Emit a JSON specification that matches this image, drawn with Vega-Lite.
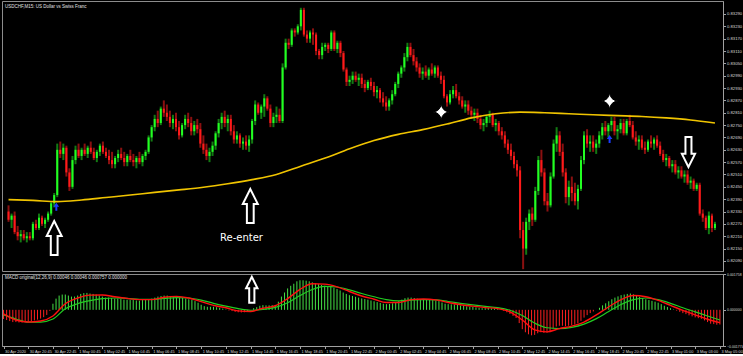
{
"$schema": "https://vega.github.io/schema/vega-lite/v6.json",
"background": "black",
"padding": 0,
"spacing": 3,
"bounds": "flush",
"config": {"view": {"stroke": "#8c8c8c", "strokeWidth": 1}, "font": "Liberation Sans", "axis": {"labelColor": "#d8d8d8", "tickColor": "#a0a0a0", "domainColor": "#a0a0a0", "grid": false, "title": null, "tickSize": 2.5, "labelFontSize": 4.2, "labelPadding": 1, "labelOverlap": false, "labelFlush": false}},
"datasets": {
"c": [
{"i":0,"o":0.8233,"h":0.8236,"l":0.8228,"c":0.8229,"m":-0.00045},
{"i":1,"o":0.8229,"h":0.8232,"l":0.8225,"c":0.8231,"m":-0.0005},
{"i":2,"o":0.8231,"h":0.8233,"l":0.8222,"c":0.8223,"m":-0.00055},
{"i":3,"o":0.8223,"h":0.8226,"l":0.8219,"c":0.8221,"m":-0.0006},
{"i":4,"o":0.8221,"h":0.8224,"l":0.8218,"c":0.8222,"m":-0.0006},
{"i":5,"o":0.8222,"h":0.8224,"l":0.8219,"c":0.822,"m":-0.00062},
{"i":6,"o":0.822,"h":0.8223,"l":0.8218,"c":0.8221,"m":-0.00062},
{"i":7,"o":0.8221,"h":0.8223,"l":0.8219,"c":0.822,"m":-0.0006},
{"i":8,"o":0.822,"h":0.8228,"l":0.8219,"c":0.8227,"m":-0.00058},
{"i":9,"o":0.8227,"h":0.8229,"l":0.8224,"c":0.8225,"m":-0.00055},
{"i":10,"o":0.8225,"h":0.8232,"l":0.8224,"c":0.823,"m":-0.00052},
{"i":11,"o":0.823,"h":0.8231,"l":0.8226,"c":0.8227,"m":-0.00048},
{"i":12,"o":0.8227,"h":0.823,"l":0.8225,"c":0.8229,"m":-0.00043},
{"i":13,"o":0.8229,"h":0.8233,"l":0.8228,"c":0.8232,"m":-0.00036},
{"i":14,"o":0.8232,"h":0.8238,"l":0.8231,"c":0.8237,"m":-0.00025},
{"i":15,"o":0.8237,"h":0.8242,"l":0.8235,"c":0.8241,"m":-0.00005},
{"i":16,"o":0.8241,"h":0.8266,"l":0.824,"c":0.8263,"m":0.0003},
{"i":17,"o":0.8263,"h":0.8267,"l":0.8259,"c":0.8261,"m":0.00055},
{"i":18,"o":0.8261,"h":0.8266,"l":0.8258,"c":0.8264,"m":0.0007},
{"i":19,"o":0.8264,"h":0.8265,"l":0.825,"c":0.8252,"m":0.00075},
{"i":20,"o":0.8252,"h":0.8254,"l":0.8243,"c":0.8245,"m":0.00075},
{"i":21,"o":0.8245,"h":0.826,"l":0.8244,"c":0.8258,"m":0.0007},
{"i":22,"o":0.8258,"h":0.8265,"l":0.8256,"c":0.8263,"m":0.00065},
{"i":23,"o":0.8263,"h":0.8266,"l":0.8259,"c":0.826,"m":0.00065},
{"i":24,"o":0.826,"h":0.8264,"l":0.8258,"c":0.8263,"m":0.0007},
{"i":25,"o":0.8263,"h":0.8266,"l":0.826,"c":0.8261,"m":0.00078},
{"i":26,"o":0.8261,"h":0.8265,"l":0.8259,"c":0.8264,"m":0.00082},
{"i":27,"o":0.8264,"h":0.8267,"l":0.8261,"c":0.8262,"m":0.00083},
{"i":28,"o":0.8262,"h":0.8264,"l":0.8258,"c":0.8259,"m":0.0008},
{"i":29,"o":0.8259,"h":0.8263,"l":0.8257,"c":0.8262,"m":0.00078},
{"i":30,"o":0.8262,"h":0.8266,"l":0.826,"c":0.8265,"m":0.00075},
{"i":31,"o":0.8265,"h":0.8267,"l":0.8261,"c":0.8262,"m":0.0007},
{"i":32,"o":0.8262,"h":0.8264,"l":0.8259,"c":0.826,"m":0.00065},
{"i":33,"o":0.826,"h":0.8263,"l":0.8256,"c":0.8258,"m":0.0006},
{"i":34,"o":0.8258,"h":0.8262,"l":0.8254,"c":0.8256,"m":0.0006},
{"i":35,"o":0.8256,"h":0.826,"l":0.8254,"c":0.8259,"m":0.00058},
{"i":36,"o":0.8259,"h":0.8263,"l":0.8257,"c":0.8261,"m":0.00055},
{"i":37,"o":0.8261,"h":0.8264,"l":0.8258,"c":0.8259,"m":0.00055},
{"i":38,"o":0.8259,"h":0.8262,"l":0.8255,"c":0.8257,"m":0.00053},
{"i":39,"o":0.8257,"h":0.8261,"l":0.8255,"c":0.826,"m":0.0005},
{"i":40,"o":0.826,"h":0.8263,"l":0.8257,"c":0.8258,"m":0.0005},
{"i":41,"o":0.8258,"h":0.8261,"l":0.8255,"c":0.8257,"m":0.00048},
{"i":42,"o":0.8257,"h":0.826,"l":0.8254,"c":0.8259,"m":0.00048},
{"i":43,"o":0.8259,"h":0.8262,"l":0.8256,"c":0.8257,"m":0.00046},
{"i":44,"o":0.8257,"h":0.8261,"l":0.8255,"c":0.826,"m":0.00045},
{"i":45,"o":0.826,"h":0.8263,"l":0.8258,"c":0.8262,"m":0.00048},
{"i":46,"o":0.8262,"h":0.827,"l":0.8261,"c":0.8269,"m":0.0005},
{"i":47,"o":0.8269,"h":0.8275,"l":0.8267,"c":0.8274,"m":0.00053},
{"i":48,"o":0.8274,"h":0.828,"l":0.8272,"c":0.8278,"m":0.00055},
{"i":49,"o":0.8278,"h":0.8282,"l":0.8274,"c":0.8276,"m":0.0006},
{"i":50,"o":0.8276,"h":0.8284,"l":0.8275,"c":0.8283,"m":0.00065},
{"i":51,"o":0.8283,"h":0.8287,"l":0.8279,"c":0.8281,"m":0.00068},
{"i":52,"o":0.8281,"h":0.8285,"l":0.8277,"c":0.8279,"m":0.0007},
{"i":53,"o":0.8279,"h":0.8282,"l":0.8274,"c":0.8276,"m":0.0007},
{"i":54,"o":0.8276,"h":0.828,"l":0.8273,"c":0.8278,"m":0.00068},
{"i":55,"o":0.8278,"h":0.8281,"l":0.8272,"c":0.8274,"m":0.00063},
{"i":56,"o":0.8274,"h":0.8277,"l":0.8268,"c":0.827,"m":0.0006},
{"i":57,"o":0.827,"h":0.8276,"l":0.8269,"c":0.8275,"m":0.0006},
{"i":58,"o":0.8275,"h":0.828,"l":0.8273,"c":0.8278,"m":0.00058},
{"i":59,"o":0.8278,"h":0.8281,"l":0.8274,"c":0.8276,"m":0.00055},
{"i":60,"o":0.8276,"h":0.8279,"l":0.827,"c":0.8272,"m":0.00052},
{"i":61,"o":0.8272,"h":0.8277,"l":0.827,"c":0.8275,"m":0.0005},
{"i":62,"o":0.8275,"h":0.8278,"l":0.8271,"c":0.8273,"m":0.00043},
{"i":63,"o":0.8273,"h":0.8276,"l":0.8264,"c":0.8266,"m":0.00035},
{"i":64,"o":0.8266,"h":0.827,"l":0.8261,"c":0.8263,"m":0.00025},
{"i":65,"o":0.8263,"h":0.8266,"l":0.8258,"c":0.826,"m":0.00018},
{"i":66,"o":0.826,"h":0.8264,"l":0.8257,"c":0.8262,"m":0.00015},
{"i":67,"o":0.8262,"h":0.8267,"l":0.826,"c":0.8265,"m":0.00015},
{"i":68,"o":0.8265,"h":0.8272,"l":0.8263,"c":0.8271,"m":0.00015},
{"i":69,"o":0.8271,"h":0.8278,"l":0.8269,"c":0.8276,"m":0.00013},
{"i":70,"o":0.8276,"h":0.8281,"l":0.8273,"c":0.8279,"m":0.0001},
{"i":71,"o":0.8279,"h":0.8282,"l":0.8274,"c":0.8276,"m":0.00006},
{"i":72,"o":0.8276,"h":0.828,"l":0.8272,"c":0.8278,"m":0.00002},
{"i":73,"o":0.8278,"h":0.828,"l":0.827,"c":0.8272,"m":-0.00003},
{"i":74,"o":0.8272,"h":0.8275,"l":0.8266,"c":0.8268,"m":-0.00006},
{"i":75,"o":0.8268,"h":0.8272,"l":0.8266,"c":0.827,"m":-0.0001},
{"i":76,"o":0.827,"h":0.8271,"l":0.8264,"c":0.8266,"m":-0.00012},
{"i":77,"o":0.8266,"h":0.8269,"l":0.8263,"c":0.8267,"m":-0.00013},
{"i":78,"o":0.8267,"h":0.827,"l":0.8263,"c":0.8265,"m":-0.00012},
{"i":79,"o":0.8265,"h":0.827,"l":0.8262,"c":0.8268,"m":-0.00008},
{"i":80,"o":0.8268,"h":0.8278,"l":0.8266,"c":0.8277,"m":0},
{"i":81,"o":0.8277,"h":0.8287,"l":0.8275,"c":0.8285,"m":0.00008},
{"i":82,"o":0.8285,"h":0.8286,"l":0.828,"c":0.8281,"m":0.00013},
{"i":83,"o":0.8281,"h":0.8285,"l":0.8278,"c":0.8284,"m":0.0002},
{"i":84,"o":0.8284,"h":0.829,"l":0.8279,"c":0.8288,"m":0.00023},
{"i":85,"o":0.8288,"h":0.8289,"l":0.8282,"c":0.8283,"m":0.00022},
{"i":86,"o":0.8283,"h":0.8285,"l":0.8274,"c":0.8276,"m":0.00022},
{"i":87,"o":0.8276,"h":0.8281,"l":0.8274,"c":0.8279,"m":0.00023},
{"i":88,"o":0.8279,"h":0.8284,"l":0.8276,"c":0.828,"m":0.00023},
{"i":89,"o":0.828,"h":0.8283,"l":0.8276,"c":0.8277,"m":0.0004},
{"i":90,"o":0.8277,"h":0.8305,"l":0.8276,"c":0.8303,"m":0.00065},
{"i":91,"o":0.8303,"h":0.8317,"l":0.8302,"c":0.8315,"m":0.00085},
{"i":92,"o":0.8315,"h":0.8317,"l":0.8312,"c":0.8314,"m":0.00105},
{"i":93,"o":0.8314,"h":0.8322,"l":0.8313,"c":0.8321,"m":0.00118},
{"i":94,"o":0.8321,"h":0.8322,"l":0.8318,"c":0.832,"m":0.00128},
{"i":95,"o":0.832,"h":0.8324,"l":0.8319,"c":0.8323,"m":0.0014},
{"i":96,"o":0.8323,"h":0.8332,"l":0.8321,"c":0.8331,"m":0.00145},
{"i":97,"o":0.8331,"h":0.8332,"l":0.8318,"c":0.8319,"m":0.00145},
{"i":98,"o":0.8319,"h":0.8321,"l":0.8315,"c":0.8317,"m":0.00143},
{"i":99,"o":0.8317,"h":0.8321,"l":0.8315,"c":0.832,"m":0.0014},
{"i":100,"o":0.832,"h":0.8322,"l":0.8314,"c":0.8319,"m":0.00135},
{"i":101,"o":0.8319,"h":0.832,"l":0.8309,"c":0.8311,"m":0.0013},
{"i":102,"o":0.8311,"h":0.8312,"l":0.8307,"c":0.8309,"m":0.00126},
{"i":103,"o":0.8309,"h":0.8315,"l":0.8307,"c":0.8313,"m":0.00122},
{"i":104,"o":0.8313,"h":0.8315,"l":0.8311,"c":0.8314,"m":0.00118},
{"i":105,"o":0.8314,"h":0.8315,"l":0.831,"c":0.8312,"m":0.00116},
{"i":106,"o":0.8312,"h":0.8321,"l":0.8311,"c":0.832,"m":0.00112},
{"i":107,"o":0.832,"h":0.8321,"l":0.8311,"c":0.8312,"m":0.00108},
{"i":108,"o":0.8312,"h":0.8316,"l":0.831,"c":0.8315,"m":0.00102},
{"i":109,"o":0.8315,"h":0.8316,"l":0.8308,"c":0.831,"m":0.00095},
{"i":110,"o":0.831,"h":0.8311,"l":0.8301,"c":0.8302,"m":0.00085},
{"i":111,"o":0.8302,"h":0.8303,"l":0.8294,"c":0.8296,"m":0.00078},
{"i":112,"o":0.8296,"h":0.8299,"l":0.8294,"c":0.8297,"m":0.00072},
{"i":113,"o":0.8297,"h":0.8301,"l":0.8295,"c":0.8299,"m":0.00068},
{"i":114,"o":0.8299,"h":0.8301,"l":0.8296,"c":0.8297,"m":0.00064},
{"i":115,"o":0.8297,"h":0.83,"l":0.8294,"c":0.8298,"m":0.0006},
{"i":116,"o":0.8298,"h":0.83,"l":0.8293,"c":0.8295,"m":0.00056},
{"i":117,"o":0.8295,"h":0.8297,"l":0.8291,"c":0.8293,"m":0.00053},
{"i":118,"o":0.8293,"h":0.8297,"l":0.8292,"c":0.8296,"m":0.0005},
{"i":119,"o":0.8296,"h":0.8298,"l":0.8292,"c":0.8294,"m":0.00046},
{"i":120,"o":0.8294,"h":0.8296,"l":0.8289,"c":0.8291,"m":0.00042},
{"i":121,"o":0.8291,"h":0.8294,"l":0.8288,"c":0.8292,"m":0.00038},
{"i":122,"o":0.8292,"h":0.8293,"l":0.8286,"c":0.8288,"m":0.00034},
{"i":123,"o":0.8288,"h":0.8291,"l":0.8284,"c":0.8286,"m":0.0003},
{"i":124,"o":0.8286,"h":0.8289,"l":0.8282,"c":0.8284,"m":0.00028},
{"i":125,"o":0.8284,"h":0.8288,"l":0.8282,"c":0.8287,"m":0.00029},
{"i":126,"o":0.8287,"h":0.8292,"l":0.8285,"c":0.829,"m":0.00032},
{"i":127,"o":0.829,"h":0.8296,"l":0.8289,"c":0.8295,"m":0.00037},
{"i":128,"o":0.8295,"h":0.8301,"l":0.8293,"c":0.83,"m":0.00043},
{"i":129,"o":0.83,"h":0.8304,"l":0.8298,"c":0.8303,"m":0.0005},
{"i":130,"o":0.8303,"h":0.831,"l":0.8301,"c":0.8308,"m":0.00057},
{"i":131,"o":0.8308,"h":0.8315,"l":0.8306,"c":0.8313,"m":0.0006},
{"i":132,"o":0.8313,"h":0.8315,"l":0.8308,"c":0.8309,"m":0.0006},
{"i":133,"o":0.8309,"h":0.8312,"l":0.8304,"c":0.8306,"m":0.00058},
{"i":134,"o":0.8306,"h":0.8308,"l":0.8301,"c":0.8303,"m":0.00055},
{"i":135,"o":0.8303,"h":0.8305,"l":0.8298,"c":0.83,"m":0.00053},
{"i":136,"o":0.83,"h":0.8303,"l":0.8297,"c":0.8301,"m":0.00051},
{"i":137,"o":0.8301,"h":0.8304,"l":0.8298,"c":0.8299,"m":0.0005},
{"i":138,"o":0.8299,"h":0.8303,"l":0.8297,"c":0.8302,"m":0.00049},
{"i":139,"o":0.8302,"h":0.8305,"l":0.8299,"c":0.83,"m":0.00048},
{"i":140,"o":0.83,"h":0.8304,"l":0.8298,"c":0.8303,"m":0.00046},
{"i":141,"o":0.8303,"h":0.8304,"l":0.8298,"c":0.8299,"m":0.00043},
{"i":142,"o":0.8299,"h":0.8301,"l":0.8295,"c":0.8297,"m":0.00036},
{"i":143,"o":0.8297,"h":0.8299,"l":0.8288,"c":0.8289,"m":0.0003},
{"i":144,"o":0.8289,"h":0.829,"l":0.8284,"c":0.8286,"m":0.00028},
{"i":145,"o":0.8286,"h":0.8292,"l":0.8285,"c":0.829,"m":0.00027},
{"i":146,"o":0.829,"h":0.8294,"l":0.8288,"c":0.8292,"m":0.00026},
{"i":147,"o":0.8292,"h":0.8295,"l":0.8288,"c":0.8289,"m":0.00024},
{"i":148,"o":0.8289,"h":0.8291,"l":0.8285,"c":0.8287,"m":0.00021},
{"i":149,"o":0.8287,"h":0.8289,"l":0.8283,"c":0.8284,"m":0.00019},
{"i":150,"o":0.8284,"h":0.8287,"l":0.8281,"c":0.8285,"m":0.00017},
{"i":151,"o":0.8285,"h":0.8287,"l":0.828,"c":0.8282,"m":0.00015},
{"i":152,"o":0.8282,"h":0.8284,"l":0.8278,"c":0.828,"m":0.00014},
{"i":153,"o":0.828,"h":0.8283,"l":0.8277,"c":0.8281,"m":0.00012},
{"i":154,"o":0.8281,"h":0.8283,"l":0.8276,"c":0.8278,"m":0.00009},
{"i":155,"o":0.8278,"h":0.828,"l":0.8273,"c":0.8275,"m":0.00008},
{"i":156,"o":0.8275,"h":0.8278,"l":0.8272,"c":0.8276,"m":0.00008},
{"i":157,"o":0.8276,"h":0.828,"l":0.8274,"c":0.8279,"m":0.00009},
{"i":158,"o":0.8279,"h":0.8282,"l":0.8276,"c":0.828,"m":0.00007},
{"i":159,"o":0.828,"h":0.8281,"l":0.8274,"c":0.8275,"m":0.00006},
{"i":160,"o":0.8275,"h":0.8278,"l":0.8272,"c":0.8276,"m":0.00003},
{"i":161,"o":0.8276,"h":0.8277,"l":0.827,"c":0.8272,"m":0},
{"i":162,"o":0.8272,"h":0.8274,"l":0.8268,"c":0.827,"m":-0.00005},
{"i":163,"o":0.827,"h":0.8272,"l":0.8264,"c":0.8266,"m":-0.00012},
{"i":164,"o":0.8266,"h":0.8268,"l":0.8261,"c":0.8263,"m":-0.0002},
{"i":165,"o":0.8263,"h":0.8266,"l":0.8258,"c":0.826,"m":-0.0003},
{"i":166,"o":0.826,"h":0.8262,"l":0.8254,"c":0.8256,"m":-0.0004},
{"i":167,"o":0.8256,"h":0.8258,"l":0.825,"c":0.8253,"m":-0.00065},
{"i":168,"o":0.8253,"h":0.8255,"l":0.822,"c":0.8224,"m":-0.00095},
{"i":169,"o":0.8224,"h":0.8228,"l":0.8205,"c":0.8215,"m":-0.0011},
{"i":170,"o":0.8215,"h":0.823,"l":0.8212,"c":0.8228,"m":-0.0012},
{"i":171,"o":0.8228,"h":0.8234,"l":0.8224,"c":0.8232,"m":-0.00125},
{"i":172,"o":0.8232,"h":0.8235,"l":0.8226,"c":0.8229,"m":-0.00123},
{"i":173,"o":0.8229,"h":0.8245,"l":0.8228,"c":0.8243,"m":-0.00115},
{"i":174,"o":0.8243,"h":0.826,"l":0.8241,"c":0.8258,"m":-0.0011},
{"i":175,"o":0.8258,"h":0.8263,"l":0.825,"c":0.8252,"m":-0.00113},
{"i":176,"o":0.8252,"h":0.8254,"l":0.8236,"c":0.8238,"m":-0.00112},
{"i":177,"o":0.8238,"h":0.8242,"l":0.8233,"c":0.8236,"m":-0.00104},
{"i":178,"o":0.8236,"h":0.8252,"l":0.8235,"c":0.825,"m":-0.00092},
{"i":179,"o":0.825,"h":0.8268,"l":0.8249,"c":0.8266,"m":-0.00082},
{"i":180,"o":0.8266,"h":0.8274,"l":0.8262,"c":0.827,"m":-0.00078},
{"i":181,"o":0.827,"h":0.8272,"l":0.826,"c":0.8262,"m":-0.00078},
{"i":182,"o":0.8262,"h":0.8266,"l":0.825,"c":0.8252,"m":-0.0008},
{"i":183,"o":0.8252,"h":0.8254,"l":0.8237,"c":0.824,"m":-0.00078},
{"i":184,"o":0.824,"h":0.8248,"l":0.8236,"c":0.8245,"m":-0.00075},
{"i":185,"o":0.8245,"h":0.825,"l":0.8238,"c":0.8242,"m":-0.00072},
{"i":186,"o":0.8242,"h":0.8247,"l":0.8236,"c":0.8238,"m":-0.00066},
{"i":187,"o":0.8238,"h":0.8246,"l":0.8234,"c":0.8244,"m":-0.00054},
{"i":188,"o":0.8244,"h":0.826,"l":0.8243,"c":0.8258,"m":-0.00038},
{"i":189,"o":0.8258,"h":0.8272,"l":0.8256,"c":0.827,"m":-0.00026},
{"i":190,"o":0.827,"h":0.8273,"l":0.8264,"c":0.8266,"m":-0.00016},
{"i":191,"o":0.8266,"h":0.827,"l":0.8262,"c":0.8267,"m":-0.00008},
{"i":192,"o":0.8267,"h":0.827,"l":0.8262,"c":0.8264,"m":0},
{"i":193,"o":0.8264,"h":0.8268,"l":0.8261,"c":0.8266,"m":0.0001},
{"i":194,"o":0.8266,"h":0.8272,"l":0.8264,"c":0.827,"m":0.00022},
{"i":195,"o":0.827,"h":0.8276,"l":0.8268,"c":0.8274,"m":0.00032},
{"i":196,"o":0.8274,"h":0.8277,"l":0.827,"c":0.8272,"m":0.00042},
{"i":197,"o":0.8272,"h":0.8276,"l":0.8269,"c":0.8275,"m":0.00052},
{"i":198,"o":0.8275,"h":0.8279,"l":0.8272,"c":0.8277,"m":0.0006},
{"i":199,"o":0.8277,"h":0.8279,"l":0.827,"c":0.8272,"m":0.00066},
{"i":200,"o":0.8272,"h":0.8275,"l":0.8268,"c":0.8273,"m":0.00072},
{"i":201,"o":0.8273,"h":0.8278,"l":0.8271,"c":0.8276,"m":0.00075},
{"i":202,"o":0.8276,"h":0.8278,"l":0.827,"c":0.8271,"m":0.00078},
{"i":203,"o":0.8271,"h":0.8278,"l":0.827,"c":0.8277,"m":0.0008},
{"i":204,"o":0.8277,"h":0.828,"l":0.8274,"c":0.8275,"m":0.00076},
{"i":205,"o":0.8275,"h":0.8277,"l":0.8268,"c":0.8269,"m":0.0007},
{"i":206,"o":0.8269,"h":0.8272,"l":0.8265,"c":0.8267,"m":0.00064},
{"i":207,"o":0.8267,"h":0.827,"l":0.8263,"c":0.8268,"m":0.00058},
{"i":208,"o":0.8268,"h":0.827,"l":0.8263,"c":0.8264,"m":0.00052},
{"i":209,"o":0.8264,"h":0.8267,"l":0.8261,"c":0.8263,"m":0.00048},
{"i":210,"o":0.8263,"h":0.8268,"l":0.8262,"c":0.8267,"m":0.00044},
{"i":211,"o":0.8267,"h":0.827,"l":0.8264,"c":0.8266,"m":0.0004},
{"i":212,"o":0.8266,"h":0.8269,"l":0.8263,"c":0.8268,"m":0.00035},
{"i":213,"o":0.8268,"h":0.827,"l":0.8264,"c":0.8265,"m":0.00028},
{"i":214,"o":0.8265,"h":0.8267,"l":0.826,"c":0.8261,"m":0.0002},
{"i":215,"o":0.8261,"h":0.8263,"l":0.8257,"c":0.8258,"m":0.00014},
{"i":216,"o":0.8258,"h":0.8261,"l":0.8255,"c":0.8259,"m":0.00008},
{"i":217,"o":0.8259,"h":0.826,"l":0.8254,"c":0.8255,"m":0.00002},
{"i":218,"o":0.8255,"h":0.8258,"l":0.8252,"c":0.8256,"m":-0.00004},
{"i":219,"o":0.8256,"h":0.8258,"l":0.8251,"c":0.8252,"m":-0.0001},
{"i":220,"o":0.8252,"h":0.8255,"l":0.8249,"c":0.8253,"m":-0.00016},
{"i":221,"o":0.8253,"h":0.8255,"l":0.8249,"c":0.825,"m":-0.00021},
{"i":222,"o":0.825,"h":0.8253,"l":0.8247,"c":0.8251,"m":-0.00027},
{"i":223,"o":0.8251,"h":0.8253,"l":0.8246,"c":0.8247,"m":-0.00032},
{"i":224,"o":0.8247,"h":0.825,"l":0.8244,"c":0.8248,"m":-0.00037},
{"i":225,"o":0.8248,"h":0.8249,"l":0.8243,"c":0.8244,"m":-0.00041},
{"i":226,"o":0.8244,"h":0.8247,"l":0.8243,"c":0.8246,"m":-0.00044},
{"i":227,"o":0.8246,"h":0.8247,"l":0.8231,"c":0.8232,"m":-0.00052},
{"i":228,"o":0.8232,"h":0.8234,"l":0.8228,"c":0.823,"m":-0.0006},
{"i":229,"o":0.823,"h":0.8231,"l":0.8224,"c":0.8225,"m":-0.00068},
{"i":230,"o":0.8225,"h":0.8233,"l":0.8222,"c":0.8231,"m":-0.0007},
{"i":231,"o":0.8231,"h":0.8232,"l":0.8223,"c":0.8225,"m":-0.00073},
{"i":232,"o":0.8225,"h":0.8228,"l":0.8224,"c":0.8227,"m":-0.00072}
],
"ma": [
{"i":0,"v":0.82388},{"i":8,"v":0.82384},{"i":16,"v":0.82378},{"i":24,"v":0.82386},{"i":32,"v":0.82398},{"i":40,"v":0.8241},{"i":48,"v":0.82423},{"i":56,"v":0.82435},{"i":64,"v":0.82448},{"i":72,"v":0.82465},{"i":80,"v":0.82485},{"i":88,"v":0.8251},{"i":96,"v":0.8255},{"i":104,"v":0.8259},{"i":112,"v":0.82635},{"i":120,"v":0.82675},{"i":128,"v":0.82705},{"i":136,"v":0.82728},{"i":144,"v":0.82755},{"i":152,"v":0.82785},{"i":160,"v":0.82805},{"i":168,"v":0.82813},{"i":176,"v":0.8281},{"i":184,"v":0.82805},{"i":192,"v":0.828},{"i":200,"v":0.82796},{"i":208,"v":0.82792},{"i":216,"v":0.82785},{"i":224,"v":0.82775},{"i":232,"v":0.8276}
],
"sig": [
{"i":0,"s":-0.0002,"g":-0.00025},{"i":4,"s":-0.0005,"g":-0.00045},{"i":8,"s":-0.0006,"g":-0.0006},{"i":12,"s":-0.00055,"g":-0.0006},{"i":16,"s":-0.0003,"g":-0.00045},{"i":20,"s":0.0003,"g":0.00005},{"i":24,"s":0.00058,"g":0.0003},{"i":28,"s":0.00072,"g":0.00045},{"i":32,"s":0.00073,"g":0.00055},{"i":36,"s":0.00064,"g":0.00058},{"i":40,"s":0.00056,"g":0.00056},{"i":44,"s":0.0005,"g":0.00052},{"i":48,"s":0.0005,"g":0.00051},{"i":52,"s":0.00062,"g":0.00056},{"i":56,"s":0.00066,"g":0.0006},{"i":60,"s":0.00058,"g":0.00058},{"i":64,"s":0.0004,"g":0.00048},{"i":68,"s":0.00022,"g":0.00032},{"i":72,"s":0.0001,"g":0.00018},{"i":76,"s":-0.00005,"g":0.00006},{"i":80,"s":-0.00008,"g":-0.00002},{"i":84,"s":0.00008,"g":0.00002},{"i":88,"s":0.0002,"g":0.00012},{"i":92,"s":0.00055,"g":0.00035},{"i":96,"s":0.001,"g":0.0007},{"i":100,"s":0.00128,"g":0.001},{"i":104,"s":0.00126,"g":0.00115},{"i":108,"s":0.00113,"g":0.00112},{"i":112,"s":0.0009,"g":0.00098},{"i":116,"s":0.00068,"g":0.0008},{"i":120,"s":0.00052,"g":0.00064},{"i":124,"s":0.00036,"g":0.0005},{"i":128,"s":0.00036,"g":0.00044},{"i":132,"s":0.0005,"g":0.00048},{"i":136,"s":0.00053,"g":0.0005},{"i":140,"s":0.00049,"g":0.00049},{"i":144,"s":0.00036,"g":0.00041},{"i":148,"s":0.00025,"g":0.00032},{"i":152,"s":0.00018,"g":0.00024},{"i":156,"s":0.00011,"g":0.00017},{"i":160,"s":0.00006,"g":0.00011},{"i":164,"s":-0.0001,"g":-0.00002},{"i":168,"s":-0.0005,"g":-0.00028},{"i":172,"s":-0.00098,"g":-0.00065},{"i":176,"s":-0.00108,"g":-0.00088},{"i":180,"s":-0.00092,"g":-0.00092},{"i":184,"s":-0.0008,"g":-0.00086},{"i":188,"s":-0.0006,"g":-0.0007},{"i":192,"s":-0.00025,"g":-0.00043},{"i":196,"s":0.00015,"g":-0.00008},{"i":200,"s":0.0005,"g":0.00026},{"i":204,"s":0.0007,"g":0.0005},{"i":208,"s":0.00064,"g":0.00058},{"i":212,"s":0.00046,"g":0.0005},{"i":216,"s":0.00022,"g":0.00032},{"i":220,"s":-0.00003,"g":0.0001},{"i":224,"s":-0.00025,"g":-0.0001},{"i":228,"s":-0.00046,"g":-0.0003},{"i":232,"s":-0.00063,"g":-0.0005}
],
"up": [{"i":15,"p":0.82201},{"i":79.4,"p":0.82357}],
"down": [{"i":223.3,"p":0.82619}],
"upm": [{"i":80.4,"v":0.00098}],
"star": [{"i":142.1,"p":0.82814},{"i":197.4,"p":0.82867}],
"blue": [{"i":15.7,"p":0.82353},{"i":197.4,"p":0.82682}],
"note": [{"i":76.5,"p":0.82201,"t":"Re-enter"}]
},
"vconcat": [
{
"width": 721, "height": 270,
"title": {"text": "USDCHF,M15:  US Dollar vs Swiss Franc", "anchor": "start", "offset": -7, "dx": 3, "fontSize": 4.5, "fontWeight": "normal", "color": "#e0e0e0", "frame": "group"},
"layer": [
{"data": {"name": "c"}, "mark": {"type": "bar", "width": 2},
 "encoding": {
  "x": {"field": "i", "type": "quantitative", "scale": {"domain": [-0.5, 233], "nice": false, "zero": false}, "axis": null},
  "y": {"field": "l", "type": "quantitative", "scale": {"domain": [0.82041, 0.83353], "zero": false, "nice": false},
        "axis": {"orient": "right", "labelOverlap": false, "tickCount": 200, "values": [0.8209,0.8215,0.8221,0.8227,0.8233,0.8239,0.8245,0.8251,0.8257,0.8263,0.8269,0.8275,0.8281,0.8287,0.8293,0.8299,0.8305,0.8311,0.8317,0.8323,0.8329], "format": ".5f"}},
  "y2": {"field": "h"},
  "color": {"condition": {"test": "datum.c >= datum.o", "value": "#137a13"}, "value": "#8a1010"}
 }},
{"data": {"name": "c"}, "mark": {"type": "bar", "width": 2},
 "encoding": {
  "x": {"field": "i", "type": "quantitative"},
  "y": {"field": "o", "type": "quantitative"},
  "y2": {"field": "c"},
  "color": {"condition": {"test": "datum.c >= datum.o", "value": "#22ff22"}, "value": "#ff1a1a"}
 }},
{"data": {"name": "ma"}, "mark": {"type": "line", "color": "#f0c400", "strokeWidth": 1.6, "interpolate": "monotone"},
 "encoding": {"x": {"field": "i", "type": "quantitative"}, "y": {"field": "v", "type": "quantitative"}}},
{"data": {"name": "up"}, "mark": {"type": "point", "shape": "M-0.2,1L-0.2,-0.12L-0.44,-0.12L0,-1L0.44,-0.12L0.2,-0.12L0.2,1Z", "size": 1156, "filled": true, "fill": "black", "fillOpacity": 1, "stroke": "white", "strokeWidth": 2, "opacity": 1},
 "encoding": {"x": {"field": "i", "type": "quantitative"}, "y": {"field": "p", "type": "quantitative"}}},
{"data": {"name": "down"}, "mark": {"type": "point", "shape": "M-0.2,-1L-0.2,0.12L-0.44,0.12L0,1L0.44,0.12L0.2,0.12L0.2,-1Z", "size": 900, "filled": true, "fill": "black", "fillOpacity": 1, "stroke": "white", "strokeWidth": 2, "opacity": 1},
 "encoding": {"x": {"field": "i", "type": "quantitative"}, "y": {"field": "p", "type": "quantitative"}}},
{"data": {"name": "star"}, "mark": {"type": "point", "shape": "M0,-1Q0.12,-0.12,1,0Q0.12,0.12,0,1Q-0.12,0.12,-1,0Q-0.12,-0.12,0,-1Z", "size": 256, "filled": true, "fill": "white", "stroke": "black", "strokeWidth": 1, "opacity": 1},
 "encoding": {"x": {"field": "i", "type": "quantitative"}, "y": {"field": "p", "type": "quantitative"}}},
{"data": {"name": "blue"}, "mark": {"type": "point", "shape": "M-0.25,1L-0.25,0L-0.7,0L0,-1L0.7,0L0.25,0L0.25,1Z", "size": 64, "filled": true, "fill": "#1a3cff", "opacity": 1},
 "encoding": {"x": {"field": "i", "type": "quantitative"}, "y": {"field": "p", "type": "quantitative"}}},
{"data": {"name": "note"}, "mark": {"type": "text", "color": "white", "fontSize": 10, "font": "DejaVu Sans"},
 "encoding": {"x": {"field": "i", "type": "quantitative"}, "y": {"field": "p", "type": "quantitative"}, "text": {"field": "t"}}}
]
},
{
"width": 721, "height": 72,
"title": {"text": "MACD original(12,26,9) 0.00046 0.00046 0.000757 0.000000", "anchor": "start", "offset": -7, "dx": 3, "fontSize": 4.5, "fontWeight": "normal", "color": "#e0e0e0", "frame": "group"},
"layer": [
{"data": {"name": "c"}, "mark": {"type": "rule", "strokeWidth": 1},
 "encoding": {
  "x": {"field": "i", "type": "quantitative", "scale": {"domain": [-0.5, 233], "nice": false, "zero": false},
        "axis": {"labelOverlap": false, "tickCount": 200, "values": [0,8,16,24,32,40,48,56,64,72,80,88,96,104,112,120,128,136,144,152,160,168,176,184,192,200,208,216,224,232], "labelAlign": "left", "labelOffset": 1, "labelFontSize": 3.9, "labelPadding": 1,
        "labelExpr": "['30 Apr 2020','30 Apr 20:45','30 Apr 22:45','1 May 00:45','1 May 02:45','1 May 04:45','1 May 06:45','1 May 08:45','1 May 10:45','1 May 12:45','1 May 14:45','1 May 16:45','1 May 18:45','1 May 20:45','1 May 22:45','2 May 00:45','2 May 02:45','2 May 04:45','2 May 06:45','2 May 08:45','2 May 10:45','2 May 12:45','2 May 14:45','2 May 16:45','2 May 18:45','2 May 20:45','2 May 22:45','3 May 01:00','3 May 03:00','3 May 05:00'][round(datum.value/8)]"}},
  "y": {"field": "m", "type": "quantitative", "scale": {"domain": [-0.001774, 0.001758], "zero": false, "nice": false},
        "axis": {"orient": "right", "labelOverlap": false, "tickCount": 20, "labelFontSize": 3.5, "values": [-0.001774, 0, 0.001758], "format": ".6f"}},
  "y2": {"datum": 0},
  "color": {"condition": {"test": "datum.m >= 0", "value": "#45e045"}, "value": "#ff2020"}
 }},
{"data": {"name": "sig"}, "mark": {"type": "line", "color": "#22cc22", "strokeWidth": 1.2, "interpolate": "monotone"},
 "encoding": {"x": {"field": "i", "type": "quantitative"}, "y": {"field": "g", "type": "quantitative"}}},
{"data": {"name": "sig"}, "mark": {"type": "line", "color": "#ff1010", "strokeWidth": 1.4, "interpolate": "monotone"},
 "encoding": {"x": {"field": "i", "type": "quantitative"}, "y": {"field": "s", "type": "quantitative"}}},
{"data": {"name": "upm"}, "mark": {"type": "point", "shape": "M-0.2,1L-0.2,-0.12L-0.44,-0.12L0,-1L0.44,-0.12L0.2,-0.12L0.2,1Z", "size": 676, "filled": true, "fill": "black", "fillOpacity": 1, "stroke": "white", "strokeWidth": 2, "opacity": 1},
 "encoding": {"x": {"field": "i", "type": "quantitative"}, "y": {"field": "v", "type": "quantitative"}}}
]
}
]
}
